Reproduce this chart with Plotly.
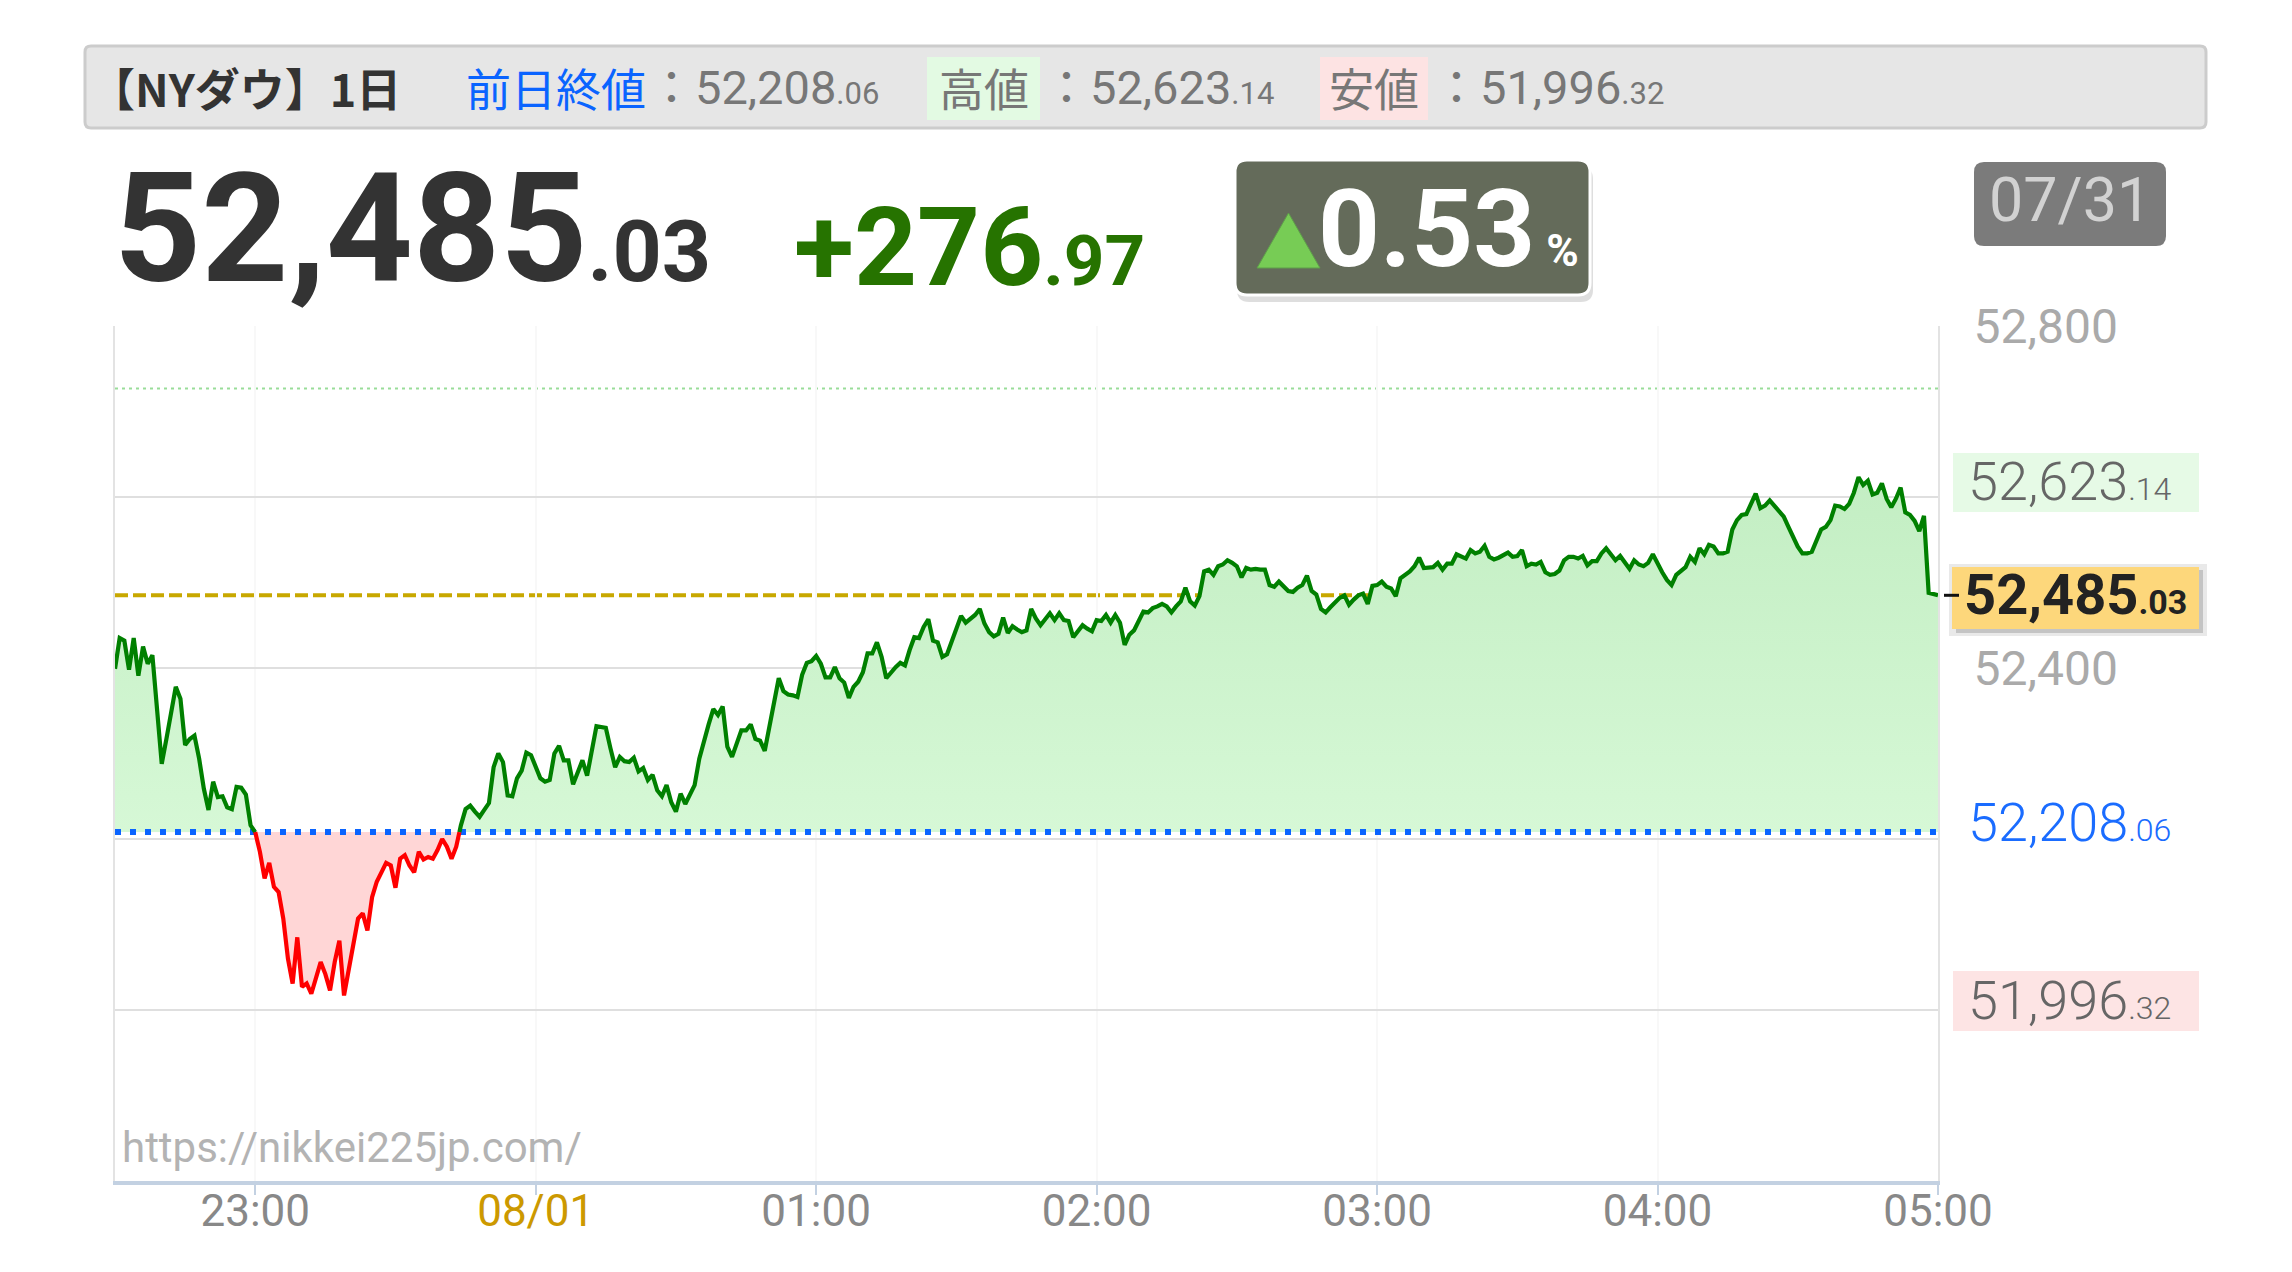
import plotly.graph_objects as go
import pandas as pd

# ---------------- data ----------------
title_label = "【NYダウ】1日"
date_label = "07/31"
prev_close = 52208.06
day_high = 52623.14
day_low = 51996.32
last_price = 52485.03
change = 276.97
change_pct = 0.53
upper_ref = 52727.0

session_start = "2025-07-31 22:30"
session_end = "2025-08-01 05:00"

prices = [
    52399, 52435, 52432, 52398, 52435, 52391, 52425, 52405, 52415, 52345,
    52288, 52317, 52349, 52378, 52364, 52310, 52317, 52321, 52294, 52259,
    52234, 52267, 52249, 52250, 52237, 52235, 52261, 52260, 52252, 52216,
    52208, 52185, 52154, 52172, 52144, 52138, 52107, 52060, 52031, 52085,
    52027, 52031, 52019, 52037, 52056, 52042, 52023, 52056, 52081, 52017,
    52048, 52077, 52107, 52113, 52093, 52132, 52150, 52161, 52172, 52169,
    52143, 52177, 52181, 52169, 52161, 52185, 52176, 52179, 52177, 52187,
    52200, 52191, 52177, 52191, 52216, 52235, 52239, 52232, 52226, 52234,
    52242, 52284, 52300, 52290, 52251, 52250, 52271, 52280, 52301, 52298,
    52284, 52271, 52267, 52269, 52300, 52309, 52292, 52292, 52264, 52278,
    52292, 52274, 52306, 52332, 52331, 52330, 52306, 52284, 52296, 52291,
    52290, 52295, 52279, 52283, 52269, 52275, 52257, 52250, 52263, 52243,
    52232, 52253, 52241, 52252, 52263, 52294, 52315, 52334, 52352, 52345,
    52355, 52308, 52296, 52310, 52327, 52327, 52334, 52317, 52315, 52303,
    52333, 52360, 52388, 52373, 52369, 52368, 52366, 52392, 52406, 52408,
    52414, 52405, 52389, 52389, 52401, 52388, 52383, 52365, 52378, 52384,
    52395, 52417, 52417, 52430, 52413, 52388, 52395, 52401, 52406, 52403,
    52421, 52436, 52435, 52448, 52457, 52432, 52430, 52413, 52416, 52430,
    52444, 52461, 52453, 52458, 52462, 52469, 52452, 52442, 52437, 52440,
    52459, 52441, 52449, 52445, 52442, 52444, 52469, 52458, 52450, 52457,
    52464, 52456, 52464, 52456, 52455, 52436, 52443, 52450, 52446, 52443,
    52456, 52455, 52462, 52453, 52462, 52453, 52427, 52439, 52444, 52455,
    52466, 52465, 52470, 52472, 52475, 52472, 52465, 52472, 52478, 52494,
    52478, 52473, 52484, 52513, 52515, 52509, 52519, 52521, 52526, 52523,
    52519, 52506, 52517, 52515, 52516, 52515, 52515, 52497, 52495, 52501,
    52496, 52490, 52489, 52494, 52497, 52508, 52490, 52486, 52469, 52465,
    52471, 52477, 52482, 52485, 52474, 52480, 52485, 52487, 52475, 52496,
    52497, 52501, 52495, 52493, 52484, 52505, 52509, 52513, 52519, 52529,
    52517, 52518, 52518, 52523, 52515, 52522, 52522, 52533, 52530, 52528,
    52538, 52534, 52536, 52543, 52530, 52527, 52529, 52532, 52535, 52530,
    52531, 52538, 52519, 52522, 52521, 52524, 52512, 52509, 52510, 52514,
    52526, 52530, 52530, 52528, 52531, 52520, 52525, 52525, 52534, 52540,
    52533, 52526, 52531, 52523, 52516, 52526, 52521, 52519, 52523, 52533,
    52522, 52512, 52503, 52497, 52509, 52513, 52518, 52530, 52524, 52540,
    52533, 52544, 52542, 52534, 52534, 52536, 52562, 52573, 52579, 52580,
    52592, 52604, 52587, 52590, 52596, 52589, 52584, 52577, 52565, 52553,
    52542, 52534, 52534, 52536, 52548, 52562, 52565, 52573, 52590, 52589,
    52586, 52592, 52605, 52623.14, 52614, 52619, 52603, 52605, 52616, 52598,
    52588, 52598, 52611, 52582, 52579, 52572, 52560, 52578, 52488, 52486,
    52485.03,
]

y_tick_vals = [52000, 52200, 52400, 52600, 52800]
y_tick_text = ["", "", "52,400", "", "52,800"]
x_tick_vals = ["2025-07-31 23:00", "2025-08-01 00:00", "2025-08-01 01:00", "2025-08-01 02:00",
               "2025-08-01 03:00", "2025-08-01 04:00", "2025-08-01 05:00"]
x_tick_text = ["23:00", "08/01", "01:00", "02:00", "03:00", "04:00", "05:00"]
watermark = "https://nikkei225jp.com/"

# ---------------- geometry ----------------
W, H = 2292, 1272
ML, MR, MT, MB = 115, 354, 326, 91
PW = W - ML - MR
PH = H - MT - MB

def px(x):
    return (x - ML) / PW

def py(y):
    return (H - MB - y) / PH

def rr_path(x0, y0, x1, y1, r):
    P = lambda x, y: f"{px(x):.6f},{py(y):.6f}"
    return (f"M {P(x0 + r, y0)} L {P(x1 - r, y0)} Q {P(x1, y0)} {P(x1, y0 + r)} "
            f"L {P(x1, y1 - r)} Q {P(x1, y1)} {P(x1 - r, y1)} L {P(x0 + r, y1)} "
            f"Q {P(x0, y1)} {P(x0, y1 - r)} L {P(x0, y0 + r)} Q {P(x0, y0)} {P(x0 + r, y0)} Z")

def split_num(v):
    s = f"{v:,.2f}"
    a, b = s.split(".")
    return a, "." + b

NUM = "Roboto, 'Noto Sans CJK JP'"
CJK = "'Noto Sans CJK JP', Roboto"

# ---------------- series with crossings ----------------
times = pd.date_range(pd.Timestamp(session_start), periods=len(prices), freq="min")
base = prev_close
ax, ay = [], []
for k in range(len(prices)):
    ax.append(times[k]); ay.append(prices[k])
    if k < len(prices) - 1:
        a, b = prices[k] - base, prices[k + 1] - base
        if a * b < 0:
            t = a / (a - b)
            ax.append(times[k] + pd.Timedelta(minutes=t)); ay.append(base)

g_fill = [max(v, base) for v in ay]
r_fill = [min(v, base) for v in ay]
g_line = [v if v >= base else None for v in ay]
r_line = [v if v <= base else None for v in ay]
base_y = [base] * len(ax)

fig = go.Figure()
fig.add_trace(go.Scatter(x=ax, y=base_y, mode="lines", line=dict(width=0), hoverinfo="skip", showlegend=False))
fig.add_trace(go.Scatter(x=ax, y=g_fill, mode="lines", line=dict(width=0), fill="tonexty",
                         fillcolor="#cff4cf",
                         fillgradient=dict(type="vertical", colorscale=[[0, "#d6f8d6"], [1, "#c3eec3"]]),
                         hoverinfo="skip", showlegend=False))
fig.add_trace(go.Scatter(x=ax, y=base_y, mode="lines", line=dict(width=0), hoverinfo="skip", showlegend=False))
fig.add_trace(go.Scatter(x=ax, y=r_fill, mode="lines", line=dict(width=0), fill="tonexty",
                         fillcolor="#ffd6d6", hoverinfo="skip", showlegend=False))
fig.add_trace(go.Scatter(x=[session_start, session_end], y=[prev_close, prev_close], mode="lines",
                         line=dict(color="#0a64ff", width=6, dash="6px,9px"), hoverinfo="skip", showlegend=False))
fig.add_trace(go.Scatter(x=ax, y=g_line, mode="lines", line=dict(color="#008000", width=4.2),
                         connectgaps=False, hoverinfo="skip", showlegend=False))
fig.add_trace(go.Scatter(x=ax, y=r_line, mode="lines", line=dict(color="#ff0000", width=4.2),
                         connectgaps=False, hoverinfo="skip", showlegend=False))

# reference lines under fills
fig.add_shape(type="line", xref="paper", yref="y", x0=0, x1=1, y0=last_price, y1=last_price,
              line=dict(color="#c8a800", width=4, dash="13px,5px"), layer="between")
fig.add_shape(type="line", xref="paper", yref="y", x0=0, x1=1, y0=upper_ref, y1=upper_ref,
              line=dict(color="#99dd99", width=2, dash="3px,4px"), layer="between")

# ---------------- header ----------------
fig.add_shape(type="path", xref="paper", yref="paper", path=rr_path(85, 46, 2206, 128, 6),
              fillcolor="#e6e6e6", line=dict(color="#cccccc", width=3))
fig.add_shape(type="rect", xref="paper", yref="paper", x0=px(927), x1=px(1040), y0=py(120), y1=py(57),
              fillcolor="#e3fae3", line=dict(width=0))
fig.add_shape(type="rect", xref="paper", yref="paper", x0=px(1320), x1=px(1428), y0=py(120), y1=py(57),
              fillcolor="#fde3e3", line=dict(width=0))

def ann(x, y, text, size, color, family=NUM, xanchor="left", yanchor="middle", weight="normal"):
    fig.add_annotation(x=px(x), y=py(y), xref="paper", yref="paper", text=text, showarrow=False,
                       xanchor=xanchor, yanchor=yanchor, align="left",
                       font=dict(family=family, size=size, color=color, weight=weight))

ann(88, 88, title_label, 45, "#333333", family=CJK, weight="bold")
ann(464, 88, "前日終値", 45, "#0a64ff", family=CJK)
i_, d_ = split_num(prev_close)
ann(646, 88, f"：{i_}<span style='font-size:31px'>{d_}</span>", 47, "#777777")
ann(983.5, 88, "高値", 45, "#777777", family=CJK, xanchor="center")
i_, d_ = split_num(day_high)
ann(1041, 88, f"：{i_}<span style='font-size:31px'>{d_}</span>", 47, "#777777")
ann(1374, 88, "安値", 45, "#777777", family=CJK, xanchor="center")
i_, d_ = split_num(day_low)
ann(1431, 88, f"：{i_}<span style='font-size:31px'>{d_}</span>", 47, "#777777")

# big price
i_, d_ = split_num(last_price)
ann(112, 229, f"{i_}<span style='font-size:86px'>{d_}</span>", 152, "#333333", weight="bold")
i_, d_ = split_num(change)
ann(792, 248, f"+{i_}<span style='font-size:71px'>{d_}</span>", 110, "#267300", weight="bold")

# pct badge
fig.add_shape(type="path", xref="paper", yref="paper", path=rr_path(1237, 167, 1593, 302, 12),
              fillcolor="rgba(0,0,0,0.13)", line=dict(width=0))
fig.add_shape(type="path", xref="paper", yref="paper", path=rr_path(1235, 160, 1590, 295, 12),
              fillcolor="#646b5a", line=dict(color="#ffffff", width=3))
fig.add_shape(type="path", xref="paper", yref="paper",
              path=f"M {px(1257)},{py(268)} L {px(1320)},{py(268)} L {px(1288.5)},{py(213)} Z",
              fillcolor="#77cc55", line=dict(color="#5f9f4a", width=1))
ann(1316, 229, f"{change_pct:.2f}<span style='font-size:44px'> %</span>", 108, "#ffffff", weight="bold")

# date badge
fig.add_shape(type="path", xref="paper", yref="paper", path=rr_path(1974, 162, 2166, 246, 10),
              fillcolor="#7b7b7b", line=dict(width=0))
ann(2070, 200, date_label, 61, "#d2d2d2", xanchor="center")

# ---------------- right labels ----------------
fig.add_shape(type="rect", xref="paper", yref="paper", x0=px(1953), x1=px(2199), y0=py(512), y1=py(453),
              fillcolor="#e6fae6", line=dict(width=0))
i_, d_ = split_num(day_high)
ann(1966, 481, f"{i_}<span style='font-size:32px'>{d_}</span>", 54, "#666666", weight=300)

fig.add_shape(type="rect", xref="paper", yref="paper", x0=px(1953), x1=px(2199), y0=py(1031), y1=py(971),
              fillcolor="#fde4e4", line=dict(width=0))
i_, d_ = split_num(day_low)
ann(1966, 1000, f"{i_}<span style='font-size:32px'>{d_}</span>", 54, "#666666", weight=300)

i_, d_ = split_num(prev_close)
ann(1966, 822, f"{i_}<span style='font-size:32px'>{d_}</span>", 54, "#1a6cff", weight=300)

fig.add_shape(type="rect", xref="paper", yref="paper", x0=px(1949), x1=px(2207), y0=py(636), y1=py(564),
              fillcolor="#e9e9e9", line=dict(width=0))
fig.add_shape(type="rect", xref="paper", yref="paper", x0=px(1956), x1=px(2203), y0=py(633), y1=py(570),
              fillcolor="#c4c4c4", line=dict(width=0))
fig.add_shape(type="rect", xref="paper", yref="paper", x0=px(1952), x1=px(2199), y0=py(629), y1=py(567),
              fillcolor="#fdd77b", line=dict(width=0))
fig.add_shape(type="line", xref="paper", yref="y", x0=px(1944), x1=px(1959), y0=last_price, y1=last_price,
              line=dict(color="#111111", width=3))
i_, d_ = split_num(last_price)
ann(1962, 595, f"{i_}<span style='font-size:34px'>{d_}</span>", 56, "#222222", weight="bold")

# watermark
ann(120, 1147, watermark, 42, "#b3b3b3")

# ---------------- axes ----------------
fig.update_layout(
    width=W, height=H, margin=dict(l=ML, r=MR, t=MT, b=MB, pad=0),
    paper_bgcolor="#ffffff", plot_bgcolor="#ffffff", showlegend=False, hovermode=False,
    xaxis=dict(type="date", range=[session_start, session_end], tickvals=x_tick_vals,
               ticktext=[f"<span style='color:#cc9900'>{t}</span>" if t == "08/01" else t for t in x_tick_text],
               tickfont=dict(family=NUM, size=44, color="#888888"),
               showgrid=True, gridcolor="#f8f8f8", gridwidth=1.5,
               showline=True, linecolor="#c3d1e2", linewidth=4,
               ticks="outside", ticklen=10, tickwidth=2, tickcolor="#c3d1e2",
               ticklabelstandoff=-22,
               zeroline=False, fixedrange=True),
    yaxis=dict(range=[51800, 52800], side="right", tickvals=y_tick_vals, ticktext=y_tick_text,
               tickfont=dict(family=NUM, size=48, color="#aaaaaa"),
               showgrid=True, gridcolor="#dfdfdf", gridwidth=1.5,
               showline=True, mirror=True, linecolor="#e3e3e3", linewidth=2,
               ticks="", ticklabelstandoff=24, zeroline=False, fixedrange=True),
)

fig.write_html("out.html", include_plotlyjs=True, config={"displayModeBar": False},
               post_script="document.body.style.margin='0';")
